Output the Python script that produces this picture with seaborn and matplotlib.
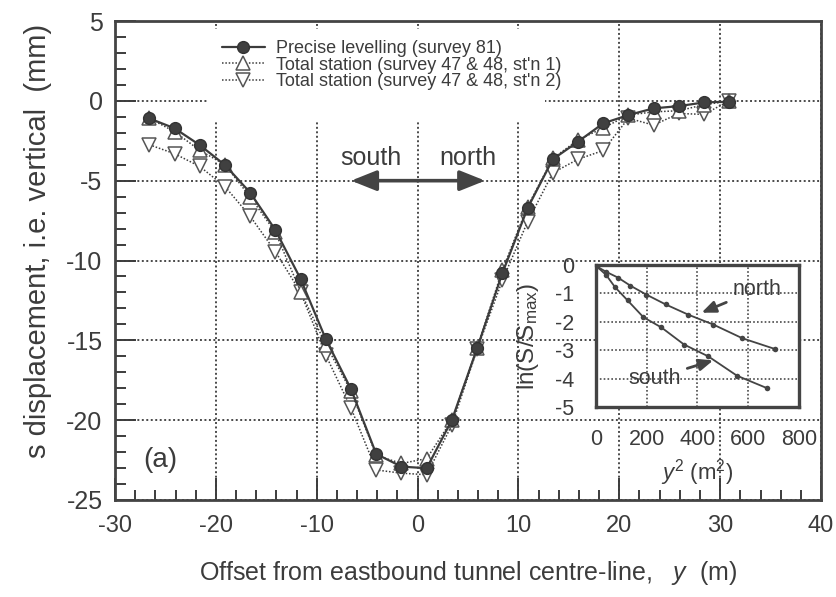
import matplotlib
matplotlib.use("Agg")
import matplotlib.pyplot as plt
from matplotlib.patches import Rectangle
from matplotlib.ticker import MultipleLocator
import numpy as np
import pandas as pd
import seaborn as sns

# ---------------- data ----------------
offset_m = [-26.6, -24.1, -21.6, -19.1, -16.6, -14.1, -11.6, -9.1, -6.6, -4.1,
            -1.6, 0.9, 3.4, 5.9, 8.4, 10.9, 13.4, 15.9, 18.4, 20.9, 23.4, 25.9,
            28.4, 30.9]
precise_levelling = [-1.10, -1.72, -2.77, -4.02, -5.75, -8.09, -11.16, -14.93,
                     -18.06, -22.12, -22.91, -23.01, -19.99, -15.50, -10.80,
                     -6.73, -3.66, -2.56, -1.41, -0.89, -0.47, -0.33, -0.10,
                     -0.05]
total_station_1 = [-1.09, -1.93, -3.10, -4.00, -6.02, -8.23, -11.95, -15.27,
                   -18.19, -22.21, -22.71, -22.41, -19.99, -15.47, -10.60,
                   -6.62, -3.61, -2.45, -1.70, -0.89, -0.69, -0.62, -0.24,
                   -0.02]
total_station_2 = [-2.75, -3.31, -4.11, -5.37, -7.23, -9.44, -12.00, -15.93,
                   -19.25, -23.12, -23.32, -23.42, -20.30, -15.57, -11.25,
                   -7.58, -4.51, -3.66, -3.11, -1.09, -1.52, -0.79, -0.85,
                   0.01]
series_labels = ["Precise levelling (survey 81)",
                 "Total station (survey 47 & 48, st'n 1)",
                 "Total station (survey 47 & 48, st'n 2)"]

# inset: ln(S/Smax) against y^2
north_y2 = [3, 40, 86, 136, 198, 275, 364, 463, 577, 706]
north_ln = [-0.05, -0.24, -0.44, -0.73, -1.04, -1.39, -1.75, -2.10, -2.58, -2.96]
south_y2 = [3, 40, 75, 125, 187, 258, 347, 443, 556, 675]
south_ln = [-0.05, -0.35, -0.78, -1.25, -1.84, -2.20, -2.80, -3.22, -3.90, -4.34]

xticks_main = [-30, -20, -10, 0, 10, 20, 30, 40]
yticks_main = [5, 0, -5, -10, -15, -20, -25]
xticks_inset = [0, 200, 400, 600, 800]
yticks_inset = [0, -1, -2, -3, -4, -5]

# ---------------- style ----------------
sns.set_theme(style="white")
plt.rcParams["font.family"] = ["Liberation Sans", "DejaVu Sans"]
plt.rcParams["mathtext.fontset"] = "custom"
plt.rcParams["mathtext.rm"] = "Liberation Sans"
plt.rcParams["mathtext.it"] = "Liberation Sans:italic"
plt.rcParams["axes.unicode_minus"] = False
INK = "#3c3c3c"
GRID = "#4a4a4a"
plt.rcParams["text.color"] = INK
plt.rcParams["axes.labelcolor"] = INK
plt.rcParams["xtick.color"] = INK
plt.rcParams["ytick.color"] = INK

fig = plt.figure(figsize=(8.36, 5.97), dpi=100)
ax = fig.add_axes([0.1376, 0.1625, 0.8445, 0.8023])

df = pd.DataFrame({"offset": offset_m, "pl": precise_levelling,
                   "ts1": total_station_1, "ts2": total_station_2})

sns.lineplot(data=df, x="offset", y="ts2", ax=ax, color=INK, linestyle=(0, (1, 1.2)),
             linewidth=1.1, marker="v", markersize=9.5, markerfacecolor="white",
             markeredgecolor="#555555", markeredgewidth=1.1, label=series_labels[2],
             estimator=None, sort=False)
sns.lineplot(data=df, x="offset", y="ts1", ax=ax, color=INK, linestyle=(0, (1, 1.2)),
             linewidth=1.1, marker="^", markersize=9.5, markerfacecolor="white",
             markeredgecolor="#555555", markeredgewidth=1.1, label=series_labels[1],
             estimator=None, sort=False)
sns.lineplot(data=df, x="offset", y="pl", ax=ax, color=INK, linestyle="-",
             linewidth=1.6, marker="o", markersize=8.5, markerfacecolor="#404040",
             markeredgecolor="#333333", markeredgewidth=1.0, label=series_labels[0],
             estimator=None, sort=False)

ax.set_xlim(-30, 40)
ax.set_ylim(-25, 5)
ax.set_xticks(xticks_main)
ax.set_yticks(yticks_main)
ax.xaxis.set_minor_locator(MultipleLocator(2))
ax.yaxis.set_minor_locator(MultipleLocator(1))
ax.tick_params(axis="x", which="major", direction="in", length=16, width=1.4,
               labelsize=17, pad=11, bottom=True, top=False)
ax.tick_params(axis="x", which="minor", direction="in", length=7, width=1.4,
               bottom=True, top=False)
ax.tick_params(axis="y", which="major", direction="in", length=15, width=1.4,
               labelsize=18, pad=9, left=True, right=False)
ax.tick_params(axis="y", which="minor", direction="in", length=8, width=1.4,
               left=True, right=False)
for s in ax.spines.values():
    s.set_color("#444444")
    s.set_linewidth(2.0)

ax.set_axisbelow(True)
ax.grid(True, which="major", color=GRID, linestyle=(0, (1, 1.3)), linewidth=1.4)
# white backdrop behind the legend (hides grid)
ax.add_patch(Rectangle((0.132, 0.793), 0.477, 0.19, transform=ax.transAxes,
                       facecolor="white", edgecolor="none", zorder=1))

ax.set_xlabel(r"Offset from eastbound tunnel centre-line,   $\mathit{y}$  (m)",
              fontsize=18, labelpad=16)
ax.set_ylabel("s displacement, i.e. vertical  (mm)", fontsize=21)
ax.yaxis.set_label_coords(-0.089, 0.541)

handles, labels = ax.get_legend_handles_labels()
order = [labels.index(l) for l in series_labels]
leg = ax.legend([handles[i] for i in order], [labels[i] for i in order],
                loc="upper left", bbox_to_anchor=(0.151, 0.960), frameon=False,
                fontsize=13, labelspacing=-0.02, handlelength=2.4,
                handletextpad=0.6, borderpad=0, borderaxespad=0)
for t in leg.get_texts():
    t.set_color(INK)

ax.text(0.064, 0.0835, "(a)", transform=ax.transAxes, fontsize=20,
        ha="center", va="center", color=INK)
ax.text(-4.65, -3.58, "south", fontsize=18, ha="center", va="center", color=INK)
ax.text(5.0, -3.58, "north", fontsize=18, ha="center", va="center", color=INK)
arrow_kw = dict(arrowstyle="-|>,head_length=0.7,head_width=0.28", lw=2.6,
                color="#444444", mutation_scale=22, shrinkA=0, shrinkB=0)
ax.annotate("", xy=(-6.6, -5), xytext=(0, -5), arrowprops=arrow_kw, zorder=3)
ax.annotate("", xy=(6.7, -5), xytext=(0, -5), arrowprops=arrow_kw, zorder=3)

# ---------------- inset ----------------
ins = fig.add_axes([0.7129, 0.3183, 0.2428, 0.2378])
ins.set_facecolor("white")
sns.lineplot(x=north_y2, y=north_ln, ax=ins, color="#444444", linewidth=1.3,
             marker="o", markersize=4, markeredgewidth=0, estimator=None, sort=False)
sns.lineplot(x=south_y2, y=south_ln, ax=ins, color="#444444", linewidth=1.3,
             marker="o", markersize=4, markeredgewidth=0, estimator=None, sort=False)
ins.set_xlim(0, 800)
ins.set_ylim(-5, 0)
ins.set_xticks(xticks_inset)
ins.set_yticks(yticks_inset)
ins.xaxis.set_minor_locator(MultipleLocator(50))
ins.yaxis.set_minor_locator(MultipleLocator(0.2))
ins.tick_params(which="major", direction="in", length=11, width=1.4,
                labelsize=15.5, pad=16, top=False, right=False)
ins.tick_params(which="minor", direction="in", length=6, width=1.4,
                top=False, right=False)
for s in ins.spines.values():
    s.set_color("#444444")
    s.set_linewidth(2.4)
ins.set_axisbelow(True)
ins.grid(True, which="major", color=GRID, linestyle=(0, (1, 1.3)), linewidth=1.2)
ins.set_xlabel(r"$\mathit{y}^2$ (m$^2$)", fontsize=16, labelpad=5)
ins.set_ylabel(r"ln(S/S$_{\mathrm{max}}$)", fontsize=17.5, labelpad=10)

ins.annotate("north", xy=(416, -1.68), xytext=(633, -0.87), fontsize=15.5,
             ha="center", va="center", color=INK,
             arrowprops=dict(arrowstyle="-|>,head_length=0.6,head_width=0.25",
                             lw=2.0, color="#444444", mutation_scale=14,
                             shrinkA=2, shrinkB=0))
ins.annotate("south", xy=(462, -3.36), xytext=(233, -3.99), fontsize=15.5,
             ha="center", va="center", color=INK,
             arrowprops=dict(arrowstyle="-|>,head_length=0.6,head_width=0.25",
                             lw=2.0, color="#444444", mutation_scale=14,
                             shrinkA=2, shrinkB=0))

fig.savefig("out.png", dpi=100, facecolor="white")
